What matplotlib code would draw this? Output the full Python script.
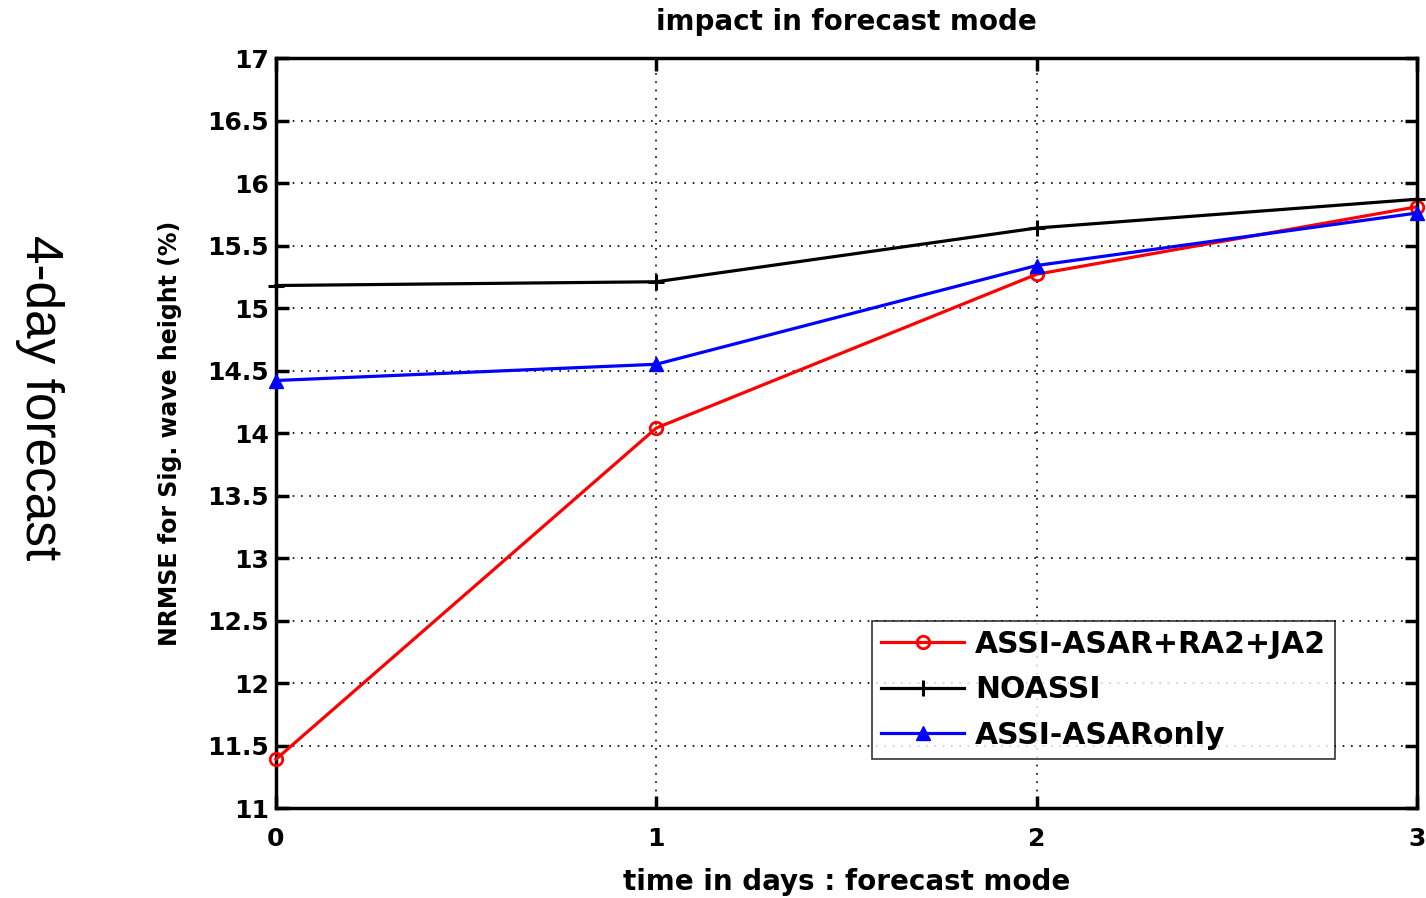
# NRMSE of significant wave height in forecast mode

import numpy as np
import matplotlib.pyplot as plt

# Data
days = [0, 1, 2, 3]
assi_all = [11.39, 14.04, 15.27, 15.81]
noassi = [15.18, 15.21, 15.64, 15.87]
assi_asar = [14.42, 14.55, 15.34, 15.76]
yticks = [11, 11.5, 12, 12.5, 13, 13.5, 14, 14.5, 15, 15.5, 16, 16.5, 17]
ytick_labels = ['11', '11.5', '12', '12.5', '13', '13.5', '14', '14.5', '15', '15.5', '16', '16.5', '17']

plt.rcParams['font.family'] = ['DejaVu Sans']

fig = plt.figure(figsize=(14.26, 8.98), dpi=100)
ax = fig.add_axes([0.1935, 0.1002, 0.8002, 0.8352])

ax.plot(days, assi_all, color='red', lw=2.3, marker='o', ms=9, mfc='none', mew=2,
        label='ASSI-ASAR+RA2+JA2', clip_on=False, zorder=3)
ax.plot(days, noassi, color='black', lw=2.3, marker='+', ms=12, mew=2.2,
        label='NOASSI', clip_on=False, zorder=3)
ax.plot(days, assi_asar, color='blue', lw=2.3, marker='^', ms=10,
        label='ASSI-ASARonly', clip_on=False, zorder=3)

ax.set_xlim(0, 3)
ax.set_ylim(11, 17)
ax.set_xticks(days)
ax.set_yticks(yticks)
ax.set_yticklabels(ytick_labels)
ax.grid(True, color='black', linestyle=(0, (1, 4)), linewidth=1.2)
ax.tick_params(direction='in', length=9, width=2.5, top=True, right=True,
               labelsize=18)
ax.tick_params(axis='x', pad=14)
ax.tick_params(axis='y', pad=5)
for lab in ax.get_xticklabels() + ax.get_yticklabels():
    lab.set_fontweight('bold')
for s in ax.spines.values():
    s.set_linewidth(2.5)

ax.set_title('impact in forecast mode', fontsize=20, fontweight='bold', pad=20)
ax.set_xlabel('time in days : forecast mode', fontsize=20, fontweight='bold', labelpad=12)
ax.set_ylabel('NRMSE for Sig. wave height (%)', fontsize=17, fontweight='bold', labelpad=18)

leg = ax.legend(loc='lower right', bbox_to_anchor=(0.928, 0.066), borderaxespad=0,
                prop={'weight': 'bold', 'size': 21.5}, frameon=True, fancybox=False,
                edgecolor='black', handlelength=2.8, handletextpad=0.35,
                borderpad=0.3, labelspacing=0.55)
leg.get_frame().set_linewidth(1.2)

fig.text(0.028, 0.557, '4-day forecast', rotation=-90, fontsize=37,
         family='Liberation Sans', ha='center', va='center')

plt.savefig('out.png', dpi=100)
